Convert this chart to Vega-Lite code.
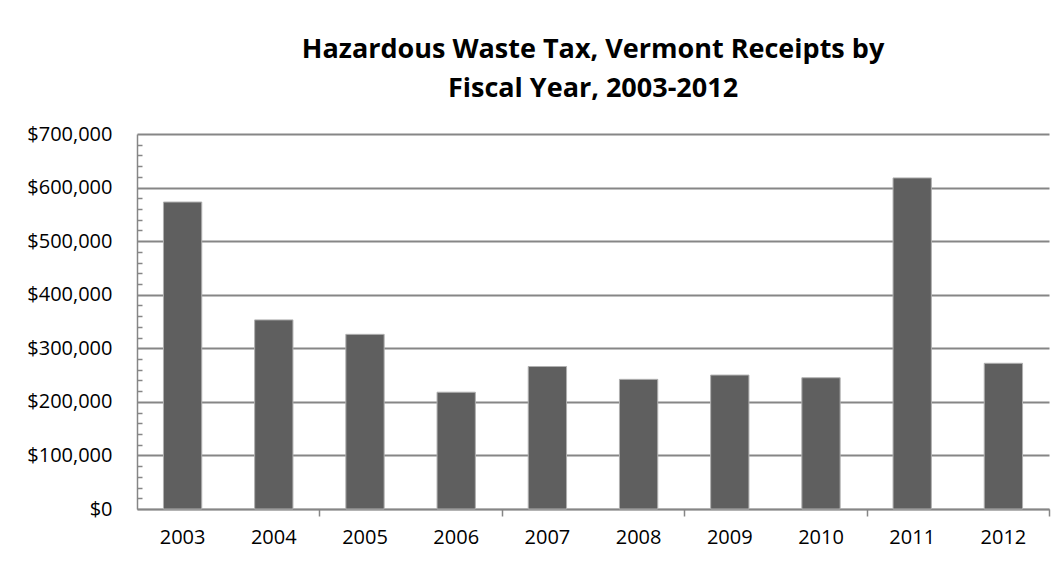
{
  "$schema": "https://vega.github.io/schema/vega-lite/v6.json",
  "autosize": {"type": "none"},
  "width": 912,
  "height": 375,
  "padding": {"left": 137, "top": 134, "right": 10, "bottom": 57},
  "background": "white",
  "title": {
    "text": ["Hazardous Waste Tax, Vermont Receipts by", "Fiscal Year, 2003-2012"],
    "font": "Open Sans",
    "fontSize": 27,
    "fontWeight": "bold",
    "color": "#000000",
    "lineHeight": 39,
    "offset": 21,
    "anchor": "middle"
  },
  "data": {
    "values": [
      {"year": "2003", "receipts": 573000},
      {"year": "2004", "receipts": 353000},
      {"year": "2005", "receipts": 326000},
      {"year": "2006", "receipts": 218000},
      {"year": "2007", "receipts": 266000},
      {"year": "2008", "receipts": 242000},
      {"year": "2009", "receipts": 250000},
      {"year": "2010", "receipts": 245000},
      {"year": "2011", "receipts": 618000},
      {"year": "2012", "receipts": 272000}
    ]
  },
  "config": {
    "view": {"stroke": null},
    "axis": {"labelFont": "Open Sans", "labelFontSize": 20, "labelColor": "#000000", "title": null}
  },
  "layer": [
    {
      "mark": {"type": "bar", "color": "#5f5f5f", "stroke": "#b0b0b0", "strokeWidth": 1},
      "encoding": {
        "x": {
          "field": "year",
          "type": "nominal",
          "sort": null,
          "scale": {"paddingInner": 0.58, "paddingOuter": 0.29},
          "axis": {
            "orient": "bottom",
            "labelAngle": 0,
            "ticks": false,
            "labelPadding": 18,
            "domainColor": "#868686",
            "domainWidth": 1.5,
            "grid": false
          }
        },
        "y": {
          "field": "receipts",
          "type": "quantitative",
          "scale": {"domain": [0, 700000], "nice": false},
          "axis": {
            "orient": "left",
            "values": [0, 100000, 200000, 300000, 400000, 500000, 600000, 700000],
            "format": "$,.0f",
            "ticks": false,
            "labelPadding": 25,
            "grid": true,
            "gridColor": "#868686",
            "gridWidth": 2,
            "domainColor": "#868686",
            "domainWidth": 1.5
          }
        }
      }
    },
    {
      "mark": {"type": "rule", "opacity": 0},
      "encoding": {
        "x": {
          "field": "year",
          "type": "nominal",
          "sort": null,
          "axis": {
            "orient": "bottom",
            "values": ["2004", "2006", "2008", "2010", "2012"],
            "tickOffset": 45.6,
            "labels": false,
            "domain": false,
            "ticks": true,
            "tickSize": 7,
            "tickColor": "#868686",
            "tickWidth": 1.5,
            "grid": false
          }
        },
        "y": {
          "field": "receipts",
          "type": "quantitative",
          "axis": {
            "orient": "left",
            "values": [20000, 40000, 60000, 80000, 120000, 140000, 160000, 180000, 220000, 240000, 260000, 280000, 320000, 340000, 360000, 380000, 420000, 440000, 460000, 480000, 520000, 540000, 560000, 580000, 620000, 640000, 660000, 680000],
            "labels": false,
            "domain": false,
            "grid": false,
            "ticks": true,
            "tickSize": -5,
            "tickColor": "#868686",
            "tickWidth": 1.5
          }
        }
      }
    }
  ],
  "resolve": {"axis": {"x": "independent", "y": "independent"}}
}
